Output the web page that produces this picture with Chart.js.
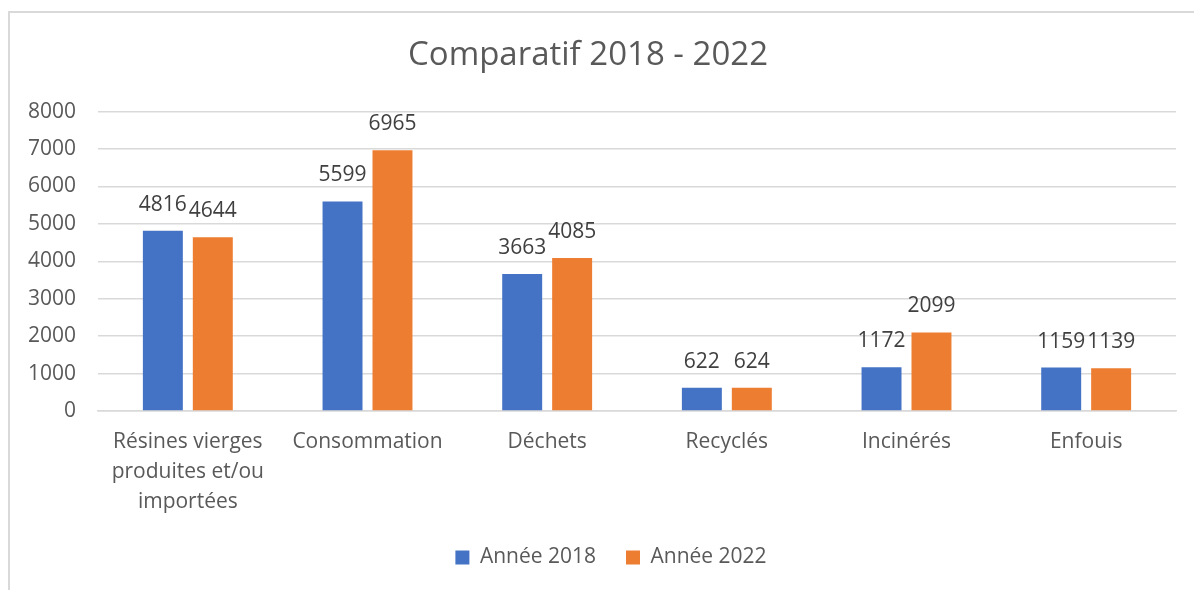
<!DOCTYPE html>
<html>
<head>
<meta charset="utf-8">
<script src="https://cdn.jsdelivr.net/npm/chart.js@4.4.0/dist/chart.umd.min.js"></script>
<style>
  html, body { margin: 0; padding: 0; background: #fff; }
  #wrap { position: relative; width: 1194px; height: 590px; overflow: hidden; }
  #frame { position: absolute; left: 8px; top: 11px; width: 1200px; height: 600px; border: 2px solid #d9d9d9; box-sizing: border-box; }
  #chart { position: absolute; left: 0; top: 0; }
</style>
</head>
<body>
<div id="wrap">
  <div id="frame"></div>
  <canvas id="chart" width="1194" height="590"></canvas>
</div>
<script>
// data
const categories = [
    ['Résines vierges', 'produites et/ou', 'importées'],
    'Consommation',
    'Déchets',
    'Recyclés',
    'Incinérés',
    'Enfouis'
];
const values2018 = [4816, 5599, 3663, 622, 1172, 1159];
const values2022 = [4644, 6965, 4085, 624, 2099, 1139];
const yTicks = [0, 1000, 2000, 3000, 4000, 5000, 6000, 7000, 8000];

const FONT = '"Open Sans", "Noto Sans", sans-serif';
const textGrey = '#595959';

// values on top of the bars (no datalabels plugin available)
const barLabels = {
    id: 'barLabels',
    afterDatasetsDraw(chart) {
        const ctx = chart.ctx;
        ctx.save();
        ctx.font = '21px ' + FONT;
        ctx.fillStyle = '#404040';
        ctx.textAlign = 'center';
        ctx.textBaseline = 'alphabetic';
        chart.data.datasets.forEach((ds, i) => {
            chart.getDatasetMeta(i).data.forEach((bar, j) => {
                ctx.fillText(String(ds.data[j]), bar.x, bar.y - 20);
            });
        });
        ctx.restore();
    }
};

// excel centres the legend a bit to the right of the canvas centre
const shiftLegend = {
    id: 'shiftLegend',
    afterLayout(chart) {
        if (chart.legend) chart.legend.left += 46;
    }
};

new Chart(document.getElementById('chart').getContext('2d'), {
    type: 'bar',
    data: {
        labels: categories,
        datasets: [
            {
                label: 'Année 2018',
                data: values2018,
                backgroundColor: '#4472C4',
                categoryPercentage: 0.556,
                barPercentage: 0.8
            },
            {
                label: 'Année 2022',
                data: values2022,
                backgroundColor: '#ED7D31',
                categoryPercentage: 0.556,
                barPercentage: 0.8
            }
        ]
    },
    options: {
        responsive: false,
        animation: false,
        layout: { padding: { left: 0, right: 18, top: 0, bottom: 12 } },
        plugins: {
            title: {
                display: true,
                text: 'Comparatif 2018 - 2022',
                color: textGrey,
                font: { family: FONT, size: 33, weight: 'normal' },
                padding: { top: 36, bottom: 36 }
            },
            legend: {
                position: 'bottom',
                labels: {
                    color: textGrey,
                    font: { family: FONT, size: 21 },
                    boxWidth: 14,
                    boxHeight: 14,
                    padding: 30
                }
            },
            tooltip: { enabled: false }
        },
        scales: {
            x: {
                grid: { display: false, drawTicks: false },
                border: { display: true, color: '#d9d9d9', width: 1.5 },
                ticks: {
                    color: textGrey,
                    font: { family: FONT, size: 21, lineHeight: 1.43 },
                    padding: 16,
                    maxRotation: 0,
                    autoSkip: false
                },
                afterFit(scale) { scale.height = 106; }
            },
            y: {
                min: 0,
                max: 8000,
                afterBuildTicks(scale) { scale.ticks = yTicks.map(v => ({ value: v })); },
                grid: { color: '#d9d9d9', lineWidth: 1.5, drawTicks: false },
                border: { display: false },
                ticks: {
                    color: textGrey,
                    font: { family: FONT, size: 21 },
                    padding: 22,
                    callback: v => String(v)
                },
                afterFit(scale) { scale.width = 98; }
            }
        }
    },
    plugins: [barLabels, shiftLegend]
});
</script>
</body>
</html>
